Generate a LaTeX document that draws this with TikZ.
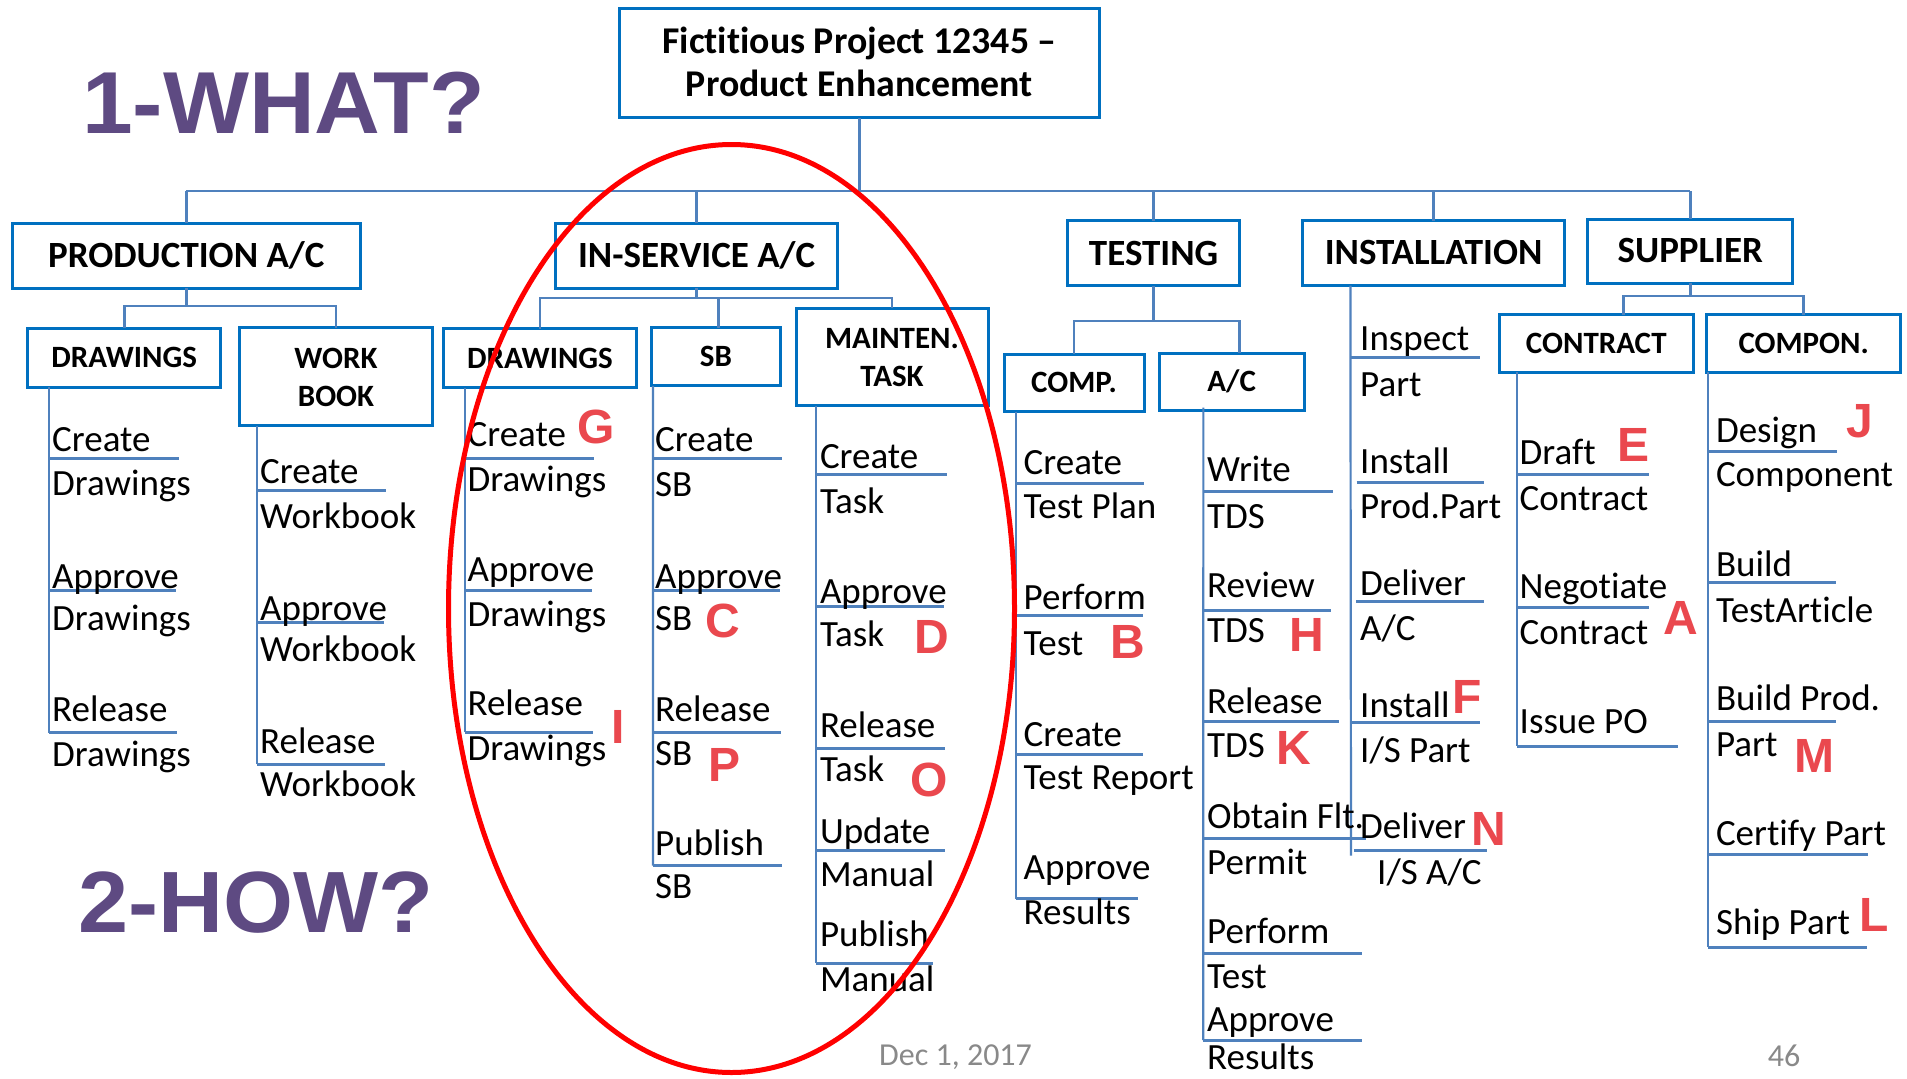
\documentclass[tikz,border=0pt]{standalone}
\usepackage{fontspec}
\setmainfont{Carlito}[Ligatures=CommonOff]
\newfontfamily\bigsans{Liberation Sans}[FakeStretch=1.035]
\newfontfamily\marksans{Liberation Sans}
\definecolor{boxblue}{RGB}{0,112,192}
\definecolor{lineblue}{RGB}{79,129,189}
\definecolor{markred}{RGB}{234,72,78}
\definecolor{qpurple}{RGB}{94,74,130}
\definecolor{footgray}{RGB}{137,137,137}

\begin{document}
\begin{tikzpicture}[x=1pt,y=-1pt,
  box/.style={draw=boxblue,line width=3pt,inner sep=0pt,outer sep=0pt,text depth=0pt},
  hdr/.style={box,font=\fontsize{37}{40}\selectfont\bfseries,text height=23.4pt},
  sub/.style={box,font=\fontsize{31}{34}\selectfont\bfseries,text height=19.6pt},
  hdrline/.style={anchor=base,inner sep=0pt,font=\fontsize{37.8}{40}\selectfont\bfseries},
  subline/.style={anchor=base,inner sep=0pt,font=\fontsize{31}{34}\selectfont\bfseries},
  itm/.style={anchor=base west,inner sep=0pt,font=\fontsize{37}{40}\selectfont},
  conn/.style={draw=lineblue,line width=2.6pt},
  spine/.style={draw=lineblue,line width=2.2pt},
  uline/.style={draw=lineblue,line width=3pt},
  redmark/.style={anchor=base,inner sep=0pt,text=markred,font=\marksans\bfseries\fontsize{48}{50}\selectfont},
  bigq/.style={anchor=base west,inner sep=0pt,text=qpurple,font=\bigsans\bfseries\fontsize{88}{90}\selectfont},
  foot/.style={inner sep=0pt,text=footgray,font=\fontsize{32}{34}\selectfont}
]
\fill[white] (0,0) rectangle (1907,1079);
\useasboundingbox (0,0) rectangle (1907,1079);

% ---------- project box ----------
\node[box,minimum width=480pt,minimum height=109.4pt] (title) at (859.5,63) {};
\node[hdrline] (title1) at (859.5,53.3) {Fictitious Project 12345 –};
\node[hdrline] (title2) at (859.5,96.7) {Product Enhancement};

% ---------- first level ----------
\node[hdr,minimum width=348.6pt,minimum height=65pt]   (prod)     at (186.3,255.5)  {PRODUCTION A/C};
\node[hdr,minimum width=282pt,minimum height=65pt]     (insvc)    at (696.6,255.5)  {IN-SERVICE A/C};
\node[hdr,minimum width=172.7pt,minimum height=65.3pt] (testing)  at (1153.6,253.3) {TESTING};
\node[hdr,minimum width=261.8pt,minimum height=64.8pt] (install)  at (1433.6,253.1) {INSTALLATION};
\node[hdr,minimum width=205.3pt,minimum height=63.6pt] (supplier) at (1690.3,251.2) {SUPPLIER};

% ---------- second level ----------
\node[sub,minimum width=192.8pt,minimum height=59pt]   (pdraw)    at (124.2,357.5)  {DRAWINGS};
\node[box,minimum width=192.8pt,minimum height=97.7pt] (workbook) at (336,376.8)    {};
\node[subline] (wb1) at (336,368.3) {WORK};
\node[subline] (wb2) at (336,406)   {BOOK};
\node[sub,minimum width=192.8pt,minimum height=58.7pt] (idraw)    at (540,358.3)    {DRAWINGS};
\node[sub,minimum width=128.5pt,minimum height=58.3pt] (sb)       at (716,356.8)    {SB};
\node[box,minimum width=192pt,minimum height=97.4pt]   (maint)    at (892,357)      {};
\node[subline] (mt1) at (892,348.3) {MAINTEN.};
\node[subline] (mt2) at (892,386)   {TASK};
\node[sub,minimum width=140pt,minimum height=57.7pt]   (comp)     at (1074,382.9)   {COMP.};
\node[sub,minimum width=144.7pt,minimum height=57.4pt] (ac)       at (1231.7,382)   {A/C};
\node[sub,minimum width=194pt,minimum height=57.6pt]   (contract) at (1596.3,343.6) {CONTRACT};
\node[sub,minimum width=194pt,minimum height=57.6pt]   (compon)   at (1803.7,343.6) {COMPON.};

% ---------- tree connectors ----------
\coordinate (barL) at (186.3,191);
\coordinate (barR) at (1690.3,191);
\draw[conn] (barL) -- (barR);
\draw[conn] (title.south) -- (title.south |- barL);
\foreach \n in {prod,insvc,testing,install,supplier}
  \draw[conn] (\n.north) -- (\n.north |- barL);

\coordinate (pj) at (186.3,306);
\draw[conn] (prod.south) -- (pj);
\draw[conn] (pdraw.north) |- (pj) -| (workbook.north);

\coordinate (ij) at (696.6,298);
\draw[conn] (insvc.south) -- (ij);
\draw[conn] (idraw.north) |- (ij) -| (maint.north);
\draw[conn] ([xshift=2.4pt]sb.north) -- ([xshift=2.4pt]sb.north |- ij);

\coordinate (tj) at (1153.6,321);
\draw[conn] (testing.south) -- (tj);
\draw[conn] (comp.north) |- (tj) -| ([xshift=7.5pt]ac.north);

\coordinate (sj) at (1690.3,296);
\draw[conn] (supplier.south) -- (sj);
\draw[conn] ([xshift=27pt]contract.north) |- (sj) -| (compon.north);

% ---------- task spines ----------
\coordinate (pdrawEnd)    at (49,732.7);
\coordinate (workbookEnd) at (257,764.3);
\coordinate (idrawEnd)    at (465,732.3);
\coordinate (sbEnd)       at (652.9,865.7);
\coordinate (maintEnd)    at (815.8,963.3);
\coordinate (compEnd)     at (1016,898.9);
\coordinate (acEnd)       at (1203.3,1040);
\coordinate (installEnd)  at (1351,855.5);
\coordinate (contractEnd) at (1516.7,746);
\coordinate (componEnd)   at (1708.3,947.4);
\draw[spine] ([xshift=21.2pt]pdraw.south west)    -- (pdrawEnd);
\draw[spine] ([xshift=17.4pt]workbook.south west) -- (workbookEnd);
\draw[spine] ([xshift=21.4pt]idraw.south west)    -- (idrawEnd);
\draw[spine] ([xshift=1.2pt]sb.south west)        -- (sbEnd);
\draw[spine] ([xshift=19.8pt]maint.south west)    -- (maintEnd);
\draw[spine] ([xshift=12pt]comp.south west)       -- (compEnd);
\draw[spine] ([xshift=44pt,yshift=3pt]ac.south west) -- (acEnd);
\draw[spine] ([xshift=47.7pt]install.south west)  -- (installEnd);
\draw[spine] ([xshift=17.4pt]contract.south west) -- (contractEnd);
\draw[spine] ([xshift=1.6pt]compon.south west)    -- (componEnd);

% ---------- task underlines ----------
\foreach \y/\e in {458.3/179,590.7/176,732.7/177} \draw[uline] (49,\y) -- (\e,\y);
\foreach \y/\e in {490/385.6,622.3/383.5,764.3/384.7} \draw[uline] (257,\y) -- (\e,\y);
\foreach \y/\e in {458.3/593.6,590.7/591.5,732.3/592.8} \draw[uline] (465,\y) -- (\e,\y);
\foreach \y/\e in {458.3/781.8,590.7/780,732.3/781,865.7/782} \draw[uline] (652.9,\y) -- (\e,\y);
\foreach \y/\e in {474/947.3,606.7/944,748.3/945,850.7/945,963.3/933} \draw[uline] (815.8,\y) -- (\e,\y);
\foreach \y/\e in {483.5/1144.3,615.2/1143.3,754.5/1143,898.9/1137.7} \draw[uline] (1016,\y) -- (\e,\y);
\foreach \y/\e in {491.7/1332.7,610.6/1330.7,721.8/1339.3,838.2/1365.7,953.5/1362.3,1040/1362} \draw[uline] (1203.3,\y) -- (\e,\y);
\foreach \s/\y/\e in {1351/357/1480,1356.7/482/1484,1356/601.4/1484,1351/722.9/1480,1354/850.4/1486.7} \draw[uline] (\s,\y) -- (\e,\y);
\foreach \y/\e in {474.5/1649,607/1649,746/1677.7} \draw[uline] (1516.7,\y) -- (\e,\y);
\foreach \y/\e in {451.5/1837.3,582.7/1835.7,721.4/1836,854.6/1867.7,947.4/1867} \draw[uline] (1708.3,\y) -- (\e,\y);

% ---------- task texts ----------
% production drawings
\node[itm] (pa1) at (52,451.7) {Create};   \node[itm] (pa2) at (52,495)   {Drawings};
\node[itm] (pb1) at (52,588)   {Approve};  \node[itm] (pb2) at (52,630)   {Drawings};
\node[itm] (pc1) at (52,721.7) {Release};  \node[itm] (pc2) at (52,766.7) {Drawings};
% workbook
\node[itm] (wa1) at (260,483.3) {Create};  \node[itm] (wa2) at (260,528.3) {Workbook};
\node[itm] (wb1t) at (260,620)  {Approve}; \node[itm] (wb2t) at (260,661.7) {Workbook};
\node[itm] (wc1) at (260,753.3) {Release}; \node[itm] (wc2) at (260,796.7) {Workbook};
% in-service drawings
\node[itm] (ia1) at (467.4,446.7) {Create};  \node[itm] (ia2) at (467.4,491.7) {Drawings};
\node[itm] (ib1) at (467.4,581.7) {Approve}; \node[itm] (ib2) at (467.4,626.7) {Drawings};
\node[itm] (ic1) at (467.4,715)   {Release}; \node[itm] (ic2) at (467.4,760)   {Drawings};
% service bulletin
\node[itm] (sa1) at (655,451.7) {Create};  \node[itm] (sa2) at (655,496.7) {SB};
\node[itm] (sb1t) at (655,588)  {Approve}; \node[itm] (sb2t) at (655,630)  {SB};
\node[itm] (sc1) at (655,721.7) {Release}; \node[itm] (sc2) at (655,765)   {SB};
\node[itm] (sd1) at (655,855)   {Publish}; \node[itm] (sd2) at (655,898)   {SB};
% maintenance task
\node[itm] (ma1) at (819.8,468.3) {Create};  \node[itm] (ma2) at (819.8,513)   {Task};
\node[itm] (mb1) at (819.8,603)   {Approve}; \node[itm] (mb2) at (819.8,646.7) {Task};
\node[itm] (mc1) at (819.8,737)   {Release}; \node[itm] (mc2) at (819.8,781)   {Task};
\node[itm] (md1) at (819.8,843)   {Update};  \node[itm] (md2) at (819.8,886.7) {Manual};
\node[itm] (me1) at (819.8,946.7) {Publish}; \node[itm] (me2) at (819.8,991.7) {Manual};
% component testing
\node[itm] (ca1) at (1023.5,474)   {Create};  \node[itm] (ca2) at (1023.5,518) {Test Plan};
\node[itm] (cb1) at (1023.5,609)   {Perform}; \node[itm] (cb2) at (1023.5,655) {Test};
\node[itm] (cc1) at (1023.5,746.8) {Create};  \node[itm] (cc2) at (1023.5,789) {Test Report};
\node[itm] (cd1) at (1023.5,879.5) {Approve}; \node[itm] (cd2) at (1023.5,924) {Results};
% aircraft testing
\node[itm] (aa1) at (1207,481.5) {Write};       \node[itm] (aa2) at (1207,528.5)  {TDS};
\node[itm] (ab1) at (1207,597)   {Review};      \node[itm] (ab2) at (1207,642)    {TDS};
\node[itm] (ac1) at (1207,713.7) {Release};     \node[itm] (ac2) at (1207,757)    {TDS};
\node[itm] (ad1) at (1207,828.5) {Obtain Flt.}; \node[itm] (ad2) at (1207,874)    {Permit};
\node[itm] (ae1) at (1207,943)   {Perform};     \node[itm] (ae2) at (1207,988)    {Test};
\node[itm] (af1) at (1207,1031)  {Approve};     \node[itm] (af2) at (1207,1069.5) {Results};
% installation
\node[itm] (na1) at (1360,350)   {Inspect}; \node[itm] (na2) at (1360,396)   {Part};
\node[itm] (nb1) at (1360,473)   {Install}; \node[itm] (nb2) at (1360,518)   {Prod.Part};
\node[itm] (nc1) at (1360,595)   {Deliver}; \node[itm] (nc2) at (1360,640)   {A/C};
\node[itm] (nd1) at (1360,717.7) {Install}; \node[itm] (nd2) at (1360,762)   {I/S Part};
\node[itm] (ne1) at (1360,838.7) {Deliver}; \node[itm] (ne2) at (1377,884.6) {I/S A/C};
% contract
\node[itm] (ka1) at (1519.5,464.3) {Draft};     \node[itm] (ka2) at (1519.5,510) {Contract};
\node[itm] (kb1) at (1519.5,598)   {Negotiate}; \node[itm] (kb2) at (1519.5,644) {Contract};
\node[itm] (kc1) at (1519.5,733)   {Issue PO};
% component
\node[itm] (oa1) at (1715.8,442.3) {Design};      \node[itm] (oa2) at (1715.8,486.7) {Component};
\node[itm] (ob1) at (1715.8,576.5) {Build};       \node[itm] (ob2) at (1715.8,622.4) {TestArticle};
\node[itm] (oc1) at (1715.8,710)   {Build Prod.}; \node[itm] (oc2) at (1715.8,756)   {Part};
\node[itm] (od1) at (1715.8,845)   {Certify Part};
\node[itm] (oe1) at (1715.8,934.7) {Ship Part};

% ---------- sequence letters ----------
\node[redmark] (lG) at (595.8,443)   {G};
\node[redmark] (lI) at (618.3,743.3) {I};
\node[redmark] (lC) at (723.3,637.3) {C};
\node[redmark] (lP) at (724.5,781)   {P};
\node[redmark] (lD) at (932.3,653.3) {D};
\node[redmark] (lO) at (929.5,796)   {O};
\node[redmark] (lB) at (1128,658.6)  {B};
\node[redmark] (lH) at (1306.7,651)  {H};
\node[redmark] (lK) at (1294.2,764.7){K};
\node[redmark] (lF) at (1466.7,713.7){F};
\node[redmark] (lN) at (1488.5,845.4){N};
\node[redmark] (lE) at (1633.3,461.7){E};
\node[redmark] (lA) at (1681.3,634.7){A};
\node[redmark] (lJ) at (1860,437)    {J};
\node[redmark] (lM) at (1814.5,772.4){M};
\node[redmark] (lL) at (1874.5,931)  {L};

% ---------- highlight ring ----------
\draw[red,line width=5pt] (731.5,608.5) ellipse [x radius=283pt,y radius=464pt];

% ---------- side headings and footer ----------
\node[bigq] (what) at (82,133) {1-WHAT?};
\node[bigq,font=\bigsans\bfseries\fontsize{87}{90}\selectfont] (how) at (78,932) {2-HOW?};
\node[foot,anchor=base west] (date) at (879,1065) {Dec 1, 2017};
\node[foot,anchor=base] (pagenum) at (1784,1066) {46};
\end{tikzpicture}
\end{document}
